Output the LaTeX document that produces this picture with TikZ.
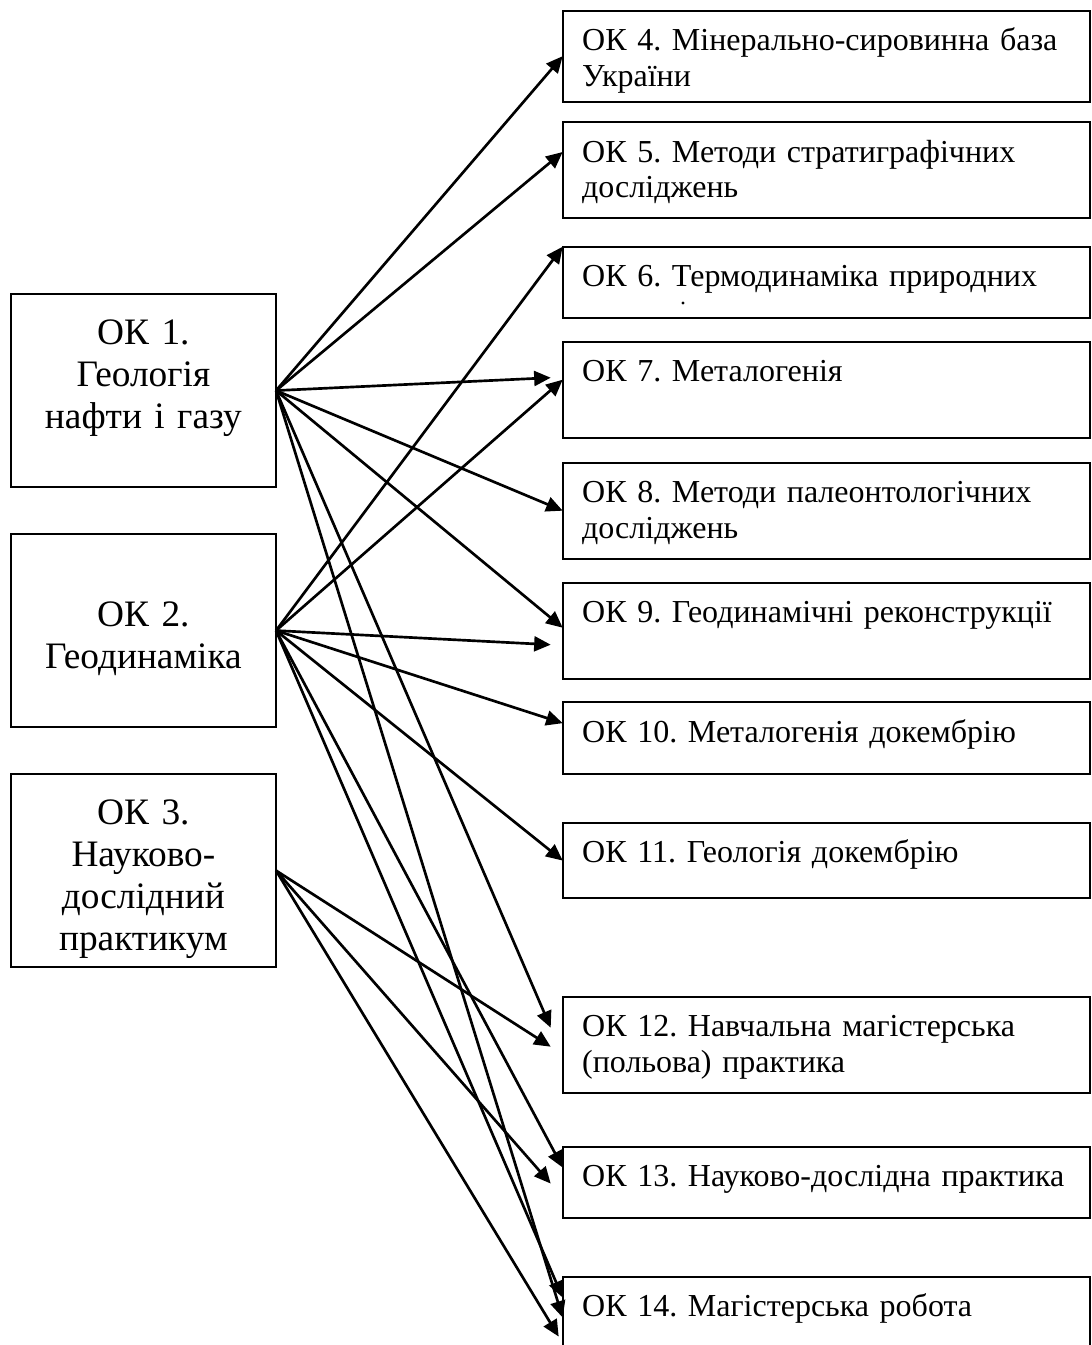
\documentclass[tikz,border=0pt]{standalone}
\usepackage{fontspec}
\setmainfont{Liberation Serif}
\frenchspacing
\usetikzlibrary{arrows.meta}
\begin{document}
\begin{tikzpicture}[x=0.375pt, y=-0.375pt,
			srcbox/.style = {draw, line width=0.75pt, outer sep=0pt, anchor=north west,
				inner xsep=4pt, inner ysep=4pt, text width=91.5pt, align=center,
				text height=15pt, text depth=49.2pt,
				font=\fontsize{14pt}{15.75pt}\selectfont},
			okbox/.style = {draw, line width=0.75pt, outer sep=0pt, anchor=north west,
				inner xsep=7.3pt, inner ysep=4pt, text width=183.1pt, align=left,
				text height=11pt, text depth=17pt,
				font=\fontsize{12pt}{13.35pt}\selectfont},
			oklow/.style = {okbox, text depth=7.9pt},
			link/.style = {-{Triangle[length=6.2pt, width=5.6pt]}, line width=1pt}]
			
			\useasboundingbox (0,0) rectangle (1091,1345);
			
			\node[srcbox] (ok1) at (10.7,294.3) {ОК 1.\\Геологія\\нафти і газу};
			\node[srcbox] (ok2) at (10.7,534.3) {\mbox{}\\ОК 2.\\Геодинаміка};
			\node[srcbox] (ok3) at (10.7,774.3) {ОК 3.\\Науково-\\дослідний\\практикум};
			
			\node[okbox, text depth=15.1pt] (ok4) at (562.7,10.7) {ОК 4. Мінерально-сировинна база\\України};
			\node[okbox] (ok5) at (562.7,122) {ОК 5. Методи стратиграфічних\\досліджень};
			\node[oklow] (ok6) at (562.7,246.7) {ОК 6. Термодинаміка природних};
			\node[okbox] (ok7) at (562.7,341.7) {ОК 7. Металогенія};
			\node[okbox] (ok8) at (562.7,462.7) {ОК 8. Методи палеонтологічних\\досліджень};
			\node[okbox] (ok9) at (562.7,582.7) {ОК 9. Геодинамічні реконструкції};
			\node[oklow] (ok10) at (562.7,702.3) {ОК 10. Металогенія докембрію};
			\node[oklow, text depth=9.4pt] (ok11) at (562.7,822.7) {ОК 11. Геологія докембрію};
			\node[okbox] (ok12) at (562.7,996.7) {ОК 12. Навчальна магістерська\\(польова) практика};
			\node[oklow] (ok13) at (562.7,1146.7) {ОК 13. Науково-дослідна практика};
			\node[oklow] (ok14) at (562.7,1276.7) {ОК 14. Магістерська робота};
			
			\fill (683,303) circle (0.6pt);
			
			\draw[link] (ok1.east) -- (ok4.west);
			\draw[link] (ok1.east) -- ([shift={(0,-18)}]ok5.west);
			\draw[link] (ok1.east) -- ([shift={(-12,-12)}]ok7.west);
			\draw[link] (ok1.east) -- (ok8.west);
			\draw[link] (ok1.east) -- ([shift={(0,-3)}]ok9.west);
			\draw[link] (ok1.east) -- ([shift={(-12,-17)}]ok12.west);
			\draw[link] (ok1.east) -- ([shift={(0,5)}]ok14.west);
			
			\draw[link] (ok2.east) -- (ok6.north west);
			\draw[link] (ok2.east) -- ([shift={(0,-10)}]ok7.west);
			\draw[link] (ok2.east) -- ([shift={(-12,14)}]ok9.west);
			\draw[link] (ok2.east) -- ([shift={(0,-15)}]ok10.west);
			\draw[link] (ok2.east) -- (ok11.west);
			\draw[link] (ok2.east) -- ([shift={(0,-15)}]ok13.west);
			\draw[link] (ok2.east) -- ([shift={(0,-15)}]ok14.west);
			
			\draw[link] (ok3.east) -- ([shift={(-12,2)}]ok12.west);
			\draw[link] (ok3.east) -- ([shift={(-12,1)}]ok13.west);
			\draw[link] (ok3.east) -- ([shift={(-4,24)}]ok14.west);
\end{tikzpicture}
\end{document}
